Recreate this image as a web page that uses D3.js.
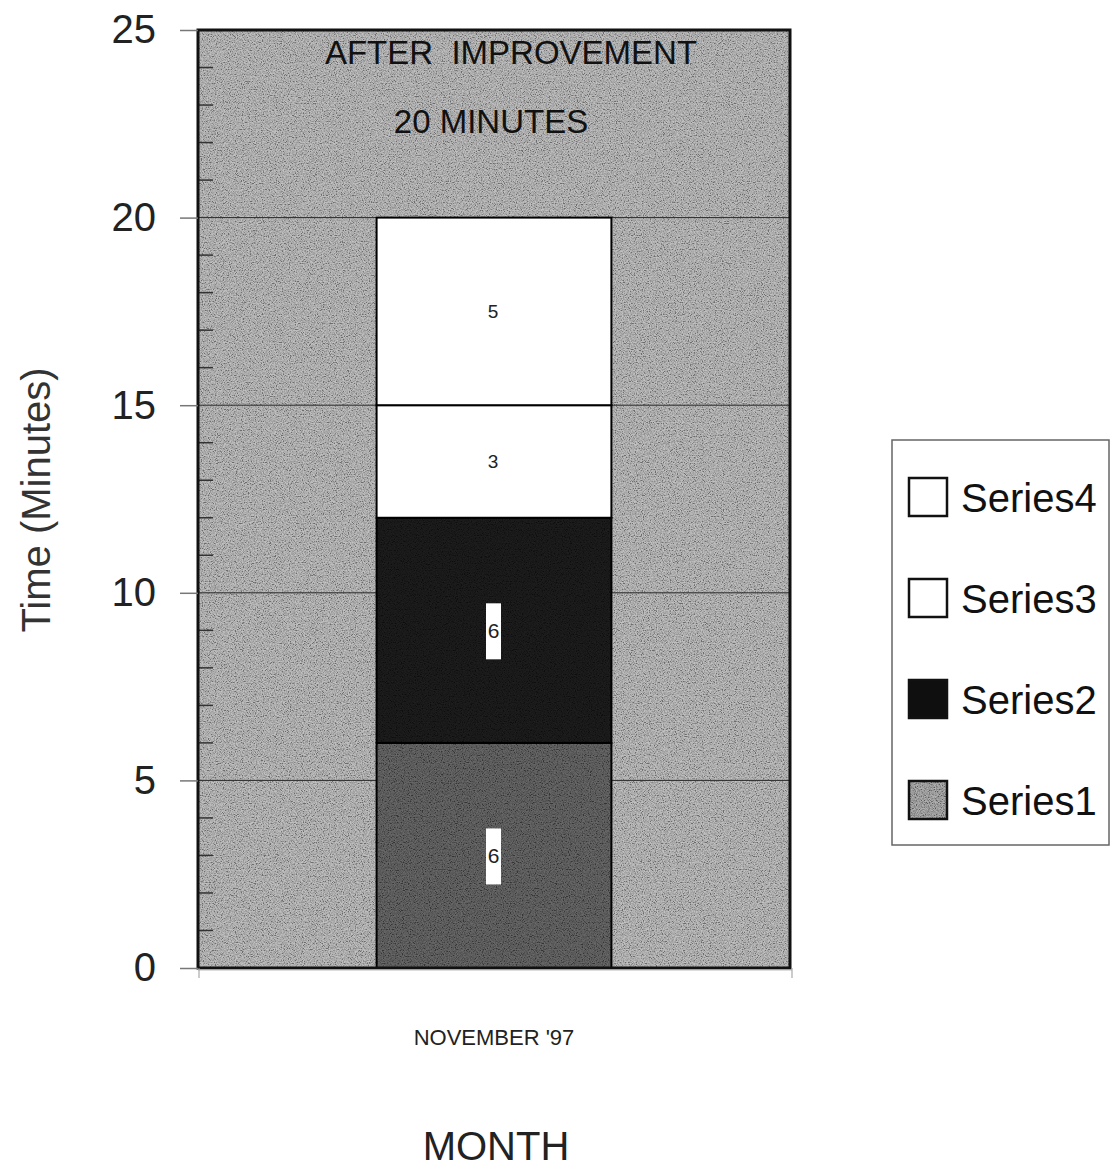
<!DOCTYPE html>
<html>
<head>
<meta charset="utf-8">
<script src="https://cdn.jsdelivr.net/npm/d3@7/dist/d3.min.js"></script>
<style>
  html, body { margin: 0; padding: 0; background: #fff; }
  svg { display: block; font-family: "Liberation Sans", Arial, sans-serif; }
</style>
</head>
<body>
<svg id="chart" width="1112" height="1171"></svg>
<script>
// Chart data
const categories = ["NOVEMBER '97"];
const seriesKeys = ["Series1", "Series2", "Series3", "Series4"];
const series1 = [6];
const series2 = [6];
const series3 = [3];
const series4 = [5];
const yTicks = [0, 5, 10, 15, 20, 25];
const yMinorTicks = d3.range(0, 26).filter(v => v % 5 !== 0);
const titleLines = ["AFTER  IMPROVEMENT", "20 MINUTES"];

const rows = categories.map((c, i) => ({
  category: c,
  Series1: series1[i], Series2: series2[i], Series3: series3[i], Series4: series4[i]
}));

const svg = d3.select("#chart");
const plot = { left: 198, right: 790, top: 30, bottom: 968 };

const x = d3.scaleBand().domain(categories).range([plot.left, plot.right])
  .paddingInner(0.432).paddingOuter(0.432);
const y = d3.scaleLinear().domain([0, 25]).range([plot.bottom, plot.top]);

const fills = { Series1: "#434343", Series2: "#0f0f0f", Series3: "#ffffff", Series4: "#ffffff" };
const grainOpacity = { Series1: 0.6, Series2: 0.18, Series3: 0, Series4: 0 };

// Grain texture filter
const defs = svg.append("defs");
const f = defs.append("filter").attr("id", "grain")
  .attr("x", 0).attr("y", 0).attr("width", 1).attr("height", 1)
  .attr("filterUnits", "objectBoundingBox");
f.append("feTurbulence").attr("type", "fractalNoise").attr("baseFrequency", 0.85)
  .attr("numOctaves", 2).attr("seed", 7).attr("result", "n");
f.append("feColorMatrix").attr("in", "n").attr("type", "matrix")
  .attr("values", "2.4 0 0 0 -0.7  2.4 0 0 0 -0.7  2.4 0 0 0 -0.7  0 0 0 0 0.34");

function grain(sel, bx, by, bw, bh, op) {
  sel.append("rect").attr("x", bx).attr("y", by).attr("width", bw).attr("height", bh)
    .attr("fill", "#888").attr("filter", "url(#grain)").attr("opacity", op);
}

// Plot area background
svg.append("rect").attr("x", plot.left).attr("y", plot.top)
  .attr("width", plot.right - plot.left).attr("height", plot.bottom - plot.top)
  .attr("fill", "#a3a3a3");
grain(svg, plot.left, plot.top, plot.right - plot.left, plot.bottom - plot.top, 1);

// Gridlines
svg.append("g").selectAll("line").data(yTicks.filter(v => v > 0 && v < 25)).join("line")
  .attr("x1", plot.left).attr("x2", plot.right)
  .attr("y1", d => y(d)).attr("y2", d => y(d))
  .attr("stroke", "#2a2a2a").attr("stroke-width", 1);

// Minor ticks inside the left edge
svg.append("g").selectAll("line").data(yMinorTicks).join("line")
  .attr("x1", plot.left).attr("x2", plot.left + 15)
  .attr("y1", d => y(d)).attr("y2", d => y(d))
  .attr("stroke", "#333").attr("stroke-width", 1.5);

// Stacked bars
const stacked = d3.stack().keys(seriesKeys)(rows);
const barG = svg.append("g");
stacked.forEach(layer => {
  layer.forEach(d => {
    const bx = x(d.data.category), bw = x.bandwidth();
    const by = y(d[1]), bh = y(d[0]) - y(d[1]);
    barG.append("rect").attr("x", bx).attr("y", by).attr("width", bw).attr("height", bh)
      .attr("fill", fills[layer.key]);
    if (grainOpacity[layer.key] > 0) grain(barG, bx, by, bw, bh, grainOpacity[layer.key]);
    barG.append("rect").attr("x", bx).attr("y", by).attr("width", bw).attr("height", bh)
      .attr("fill", "none").attr("stroke", "#000").attr("stroke-width", 2);
  });
});

// Value labels
stacked.forEach(layer => {
  layer.forEach(d => {
    const v = d[1] - d[0];
    const cx = x(d.data.category) + x.bandwidth() / 2 - 1;
    const cy = (y(d[0]) + y(d[1])) / 2;
    if (layer.key === "Series1" || layer.key === "Series2") {
      svg.append("rect").attr("x", cx - 7).attr("y", cy - 27).attr("width", 15).attr("height", 56)
        .attr("fill", "#fff");
      svg.append("text").attr("x", cx + 0.5).attr("y", cy + 8).attr("text-anchor", "middle")
        .attr("font-size", 21).attr("fill", "#222").text(v);
    } else {
      svg.append("text").attr("x", cx).attr("y", cy + 7).attr("text-anchor", "middle")
        .attr("font-size", 19).attr("fill", "#222").text(v);
    }
  });
});

// Plot border
svg.append("rect").attr("x", plot.left).attr("y", plot.top)
  .attr("width", plot.right - plot.left).attr("height", plot.bottom - plot.top)
  .attr("fill", "none").attr("stroke", "#111").attr("stroke-width", 3);

// Y axis: outward major ticks and labels
const yAxis = d3.axisLeft(y).tickValues(yTicks).tickSize(18).tickPadding(24);
const yg = svg.append("g").attr("transform", `translate(${plot.left},0)`).call(yAxis);
yg.select(".domain").remove();
yg.selectAll(".tick line").attr("stroke", "#777").attr("stroke-width", 1.5);
yg.selectAll(".tick text").attr("font-size", 40).attr("fill", "#222")
  .attr("font-family", "Liberation Sans, Arial, sans-serif");

// X axis line with end ticks
svg.append("line").attr("x1", plot.left).attr("x2", plot.right + 2)
  .attr("y1", plot.bottom + 2).attr("y2", plot.bottom + 2)
  .attr("stroke", "#bbb").attr("stroke-width", 1);
[plot.left + 1, plot.right + 2].forEach(px => {
  svg.append("line").attr("x1", px).attr("x2", px).attr("y1", plot.bottom).attr("y2", plot.bottom + 10)
    .attr("stroke", "#999").attr("stroke-width", 1);
});

// Category label
svg.append("g").selectAll("text").data(categories).join("text")
  .attr("x", d => x(d) + x.bandwidth() / 2).attr("y", 1045)
  .attr("text-anchor", "middle").attr("font-size", 22).attr("fill", "#222").text(d => d);

// Chart title inside plot
svg.append("g").selectAll("text").data(titleLines).join("text")
  .attr("x", (d, i) => i === 0 ? 511 : 491).attr("y", (d, i) => i === 0 ? 64 : 133)
  .attr("text-anchor", "middle").attr("font-size", 33).attr("fill", "#111")
  .attr("xml:space", "preserve").style("white-space", "pre").text(d => d);

// Axis titles
svg.append("text").attr("transform", "translate(50,500) rotate(-90)")
  .attr("text-anchor", "middle").attr("font-size", 40).attr("fill", "#333").text("Time (Minutes)");
svg.append("text").attr("x", 496).attr("y", 1160)
  .attr("text-anchor", "middle").attr("font-size", 40).attr("fill", "#222").text("MONTH");

// Legend
const legend = svg.append("g");
legend.append("rect").attr("x", 892).attr("y", 440).attr("width", 217).attr("height", 405)
  .attr("fill", "#fff").attr("stroke", "#666").attr("stroke-width", 1.5);
const legendKeys = seriesKeys.slice().reverse();
const legendY = d3.scalePoint().domain(legendKeys).range([497, 800]);
legendKeys.forEach(k => {
  const cy = legendY(k);
  legend.append("rect").attr("x", 909).attr("y", cy - 19).attr("width", 38).attr("height", 38)
    .attr("fill", k === "Series1" ? "#8a8a8a" : fills[k]);
  if (k === "Series1") grain(legend, 909, cy - 19, 38, 38, 1);
  legend.append("rect").attr("x", 909).attr("y", cy - 19).attr("width", 38).attr("height", 38)
    .attr("fill", "none").attr("stroke", "#111").attr("stroke-width", 2.5);
  legend.append("text").attr("x", 961).attr("y", cy + 15).attr("font-size", 40)
    .attr("fill", "#111").text(k);
});
</script>
</body>
</html>
